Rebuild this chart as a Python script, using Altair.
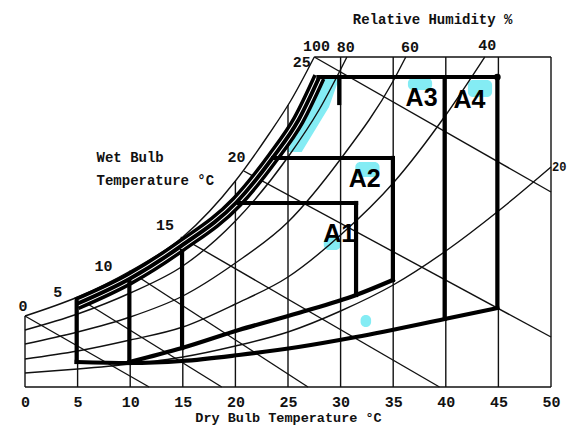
import altair as alt
import pandas as pd

# ---------------- values ----------------
# T = dry bulb temperature (deg C), W = chart ordinate (unlabelled humidity scale)
sat_T = [0, 5, 10, 15, 20, 23.2, 25.3, 27.5]
sat_W = [7.1, 9.0, 11.6, 15.0, 20.6, 25.3, 28.7, 33.0]

rh80_T = [0, 5, 10, 15, 20, 25, 28, 30.6]
rh80_W = [5.7, 7.3, 9.4, 12.1, 16.6, 23.0, 27.8, 33.0]
rh60_T = [0, 5, 10, 15, 20, 25, 30, 35, 36.2]
rh60_W = [4.3, 5.5, 7.0, 9.1, 12.4, 16.5, 22.8, 30.6, 33.0]
rh40_T = [0, 5, 10, 15, 20, 25, 30, 35, 40, 43.7]
rh40_W = [2.8, 3.6, 4.7, 6.0, 8.3, 11.0, 15.2, 20.4, 27.2, 33.0]
rh20_T = [0, 5, 10, 15, 20, 25, 30, 35, 40, 45, 50]
rh20_W = [1.4, 1.8, 2.3, 3.0, 4.1, 5.5, 7.6, 10.2, 13.6, 17.6, 22.0]

wb_names = ["0", "5", "10", "15", "20", "25"]
wb_start_T = [0, 4.9, 9.9, 14.8, 20.8, 27.5]
wb_start_W = [7.1, 9.0, 11.6, 15.0, 21.6, 33.0]
wb_end_T = [11.8, 18.7, 26.9, 39.4, 50, 50]
wb_end_W = [0, 0, 0, 0, 5.0, 19.5]

grid_T = [0, 5, 10, 15, 20, 25, 30, 35, 40, 45, 50]
grid_top = [7.1, 9.0, 11.6, 15.0, 20.6, 28.2, 33, 33, 33, 33, 33]
border_W = [0, 33]
border_T0 = [0, 27.5]
border_T1 = [50, 50]

# thick zone boundaries
band_T = [4.91, 9.92, 14.84, 20.13, 23.53, 26.0, 27.98]
band_W = [8.3, 10.8, 14.1, 18.5, 22.9, 26.7, 31.0]
upper_T = [9.92, 14.93, 20.32, 25.99, 31.47, 34.97]
upper_W = [2.5, 3.9, 5.7, 7.4, 9.2, 10.7]
lower_T = [4.91, 9.92, 14.93, 20.32, 25.99, 31.47, 39.89, 44.9]
lower_W = [2.5, 2.4, 2.6, 3.2, 4.0, 5.0, 6.8, 7.9]
vert_T = [4.91, 9.92, 14.93, 31.47, 34.97, 39.89, 44.9, 29.87]
vert_W0 = [2.5, 2.4, 3.9, 9.2, 10.7, 6.8, 7.9, 28.4]
vert_W1 = [8.5, 10.6, 13.6, 18.4, 22.9, 31.0, 31.0, 31.0]
hor_W = [31.0, 22.9, 18.4]
hor_T0 = [27.9, 23.6, 20.3]
hor_T1 = [44.9, 34.97, 31.47]

# cyan highlights
strip_W = [23.5, 28.0, 31.0]
strip_T0 = [24.9, 27.0, 28.3]
strip_T1 = [26.3, 28.9, 29.9]
blob_T0 = [36.4, 42.1, 31.4, 28.4, 31.9]
blob_T1 = [38.7, 44.4, 33.7, 30.0, 32.9]
blob_W0 = [29.7, 29.0, 21.0, 13.7, 6.0]
blob_W1 = [30.9, 30.7, 22.5, 15.0, 7.2]

zone_names = ["A1", "A2", "A3", "A4"]
zone_T = [29.87, 32.3, 37.7, 42.25]
zone_W = [15.3, 20.8, 28.9, 28.7]

wb_lab_T = [-0.19, 3.12, 7.47, 13.3, 20.1, 26.3]
wb_lab_W = [8.1, 9.5, 12.1, 16.2, 23.0, 32.5]
rh_names = ["100", "80", "60", "40"]
rh_lab_T = [27.7, 30.5, 36.6, 43.95]
rh_lab_W = [34.1, 34.0, 34.0, 34.2]
rh_side_name = ["20"]
rh_side_T = [50.1]
rh_side_W = [22.0]
title_texts = ["Relative Humidity %", "Wet Bulb", "Temperature °C"]
title_T = [38.75, 6.8, 6.8]
title_W = [36.7, 22.9, 20.6]
title_align = ["center", "left", "left"]
x_ticks = [0, 5, 10, 15, 20, 25, 30, 35, 40, 45, 50]

# ---------------- build tables ----------------
def series(name, Ts, Ws):
    return pd.DataFrame({"id": name, "T": Ts, "W": Ws, "o": list(range(len(Ts)))})

thin = [series("rh100", sat_T, sat_W), series("rh80", rh80_T, rh80_W),
        series("rh60", rh60_T, rh60_W), series("rh40", rh40_T, rh40_W),
        series("rh20", rh20_T, rh20_W)]
for n, a, b, c, d in zip(wb_names, wb_start_T, wb_start_W, wb_end_T, wb_end_W):
    thin.append(series("wb" + n, [a, c], [b, d]))
thin_df = pd.concat(thin, ignore_index=True)

thick_df = pd.concat([series("upper", upper_T, upper_W),
                      series("lower", lower_T, lower_W)], ignore_index=True)
band_df = series("band", band_T, band_W)

FONT = "Liberation Mono"
BLACK = "#111111"
CYAN = "#84ecf4"

xs = alt.Scale(domain=[0, 50], nice=False, zero=False)
ys = alt.Scale(domain=[0, 33], nice=False, zero=False)
xaxis = alt.Axis(values=x_ticks, domain=False, ticks=False, tickSize=0, grid=False,
                 labelFont=FONT, labelFontSize=15, labelFontWeight="bold",
                 labelColor=BLACK, labelPadding=7, labelFlush=False, labelOverlap=False,
                 title="Dry Bulb Temperature °C", titleFont=FONT, titleFontSize=13.5,
                 titleFontWeight="bold", titleColor=BLACK, titleY=30,
                 titleBaseline="middle")

def X(f):
    return alt.X(f, type="quantitative", scale=xs, axis=xaxis)

def Y(f):
    return alt.Y(f, type="quantitative", scale=ys, axis=None)

strip = alt.Chart(pd.DataFrame({"W": strip_W, "T0": strip_T0, "T1": strip_T1})).mark_area(
    orient="horizontal", color=CYAN, opacity=1).encode(
    y=Y("W"), x=X("T0"), x2="T1")

blobs = alt.Chart(pd.DataFrame({"T0": blob_T0, "T1": blob_T1, "W0": blob_W0, "W1": blob_W1})).mark_rect(
    color=CYAN, cornerRadius=5).encode(x=X("T0"), x2="T1", y=Y("W0"), y2="W1")

grid = alt.Chart(pd.DataFrame({"T": grid_T, "top": grid_top, "bot": [0] * len(grid_T)})).mark_rule(
    color=BLACK, strokeWidth=1.4).encode(x=X("T"), y=Y("bot"), y2="top")

borders = alt.Chart(pd.DataFrame({"W": border_W, "T0": border_T0, "T1": border_T1})).mark_rule(
    color=BLACK, strokeWidth=1.4).encode(y=Y("W"), x=X("T0"), x2="T1")

thin_lines = alt.Chart(thin_df).mark_line(color=BLACK, strokeWidth=1.4, interpolate="monotone").encode(
    x=X("T"), y=Y("W"), detail="id:N", order="o:Q")

band1 = alt.Chart(band_df).mark_line(color="black", strokeWidth=13, interpolate="monotone",
                                      strokeCap="butt").encode(x=X("T"), y=Y("W"), order="o:Q")
band2 = alt.Chart(band_df).mark_line(color="white", strokeWidth=6, interpolate="monotone",
                                      strokeCap="butt").encode(x=X("T"), y=Y("W"), order="o:Q")
band3 = alt.Chart(band_df).mark_line(color="black", strokeWidth=4, interpolate="monotone",
                                      strokeCap="butt").encode(x=X("T"), y=Y("W"), order="o:Q")

thick_curves = alt.Chart(thick_df).mark_line(color="black", strokeWidth=4.2, interpolate="monotone",
                                             strokeCap="square").encode(
    x=X("T"), y=Y("W"), detail="id:N", order="o:Q")

verts = alt.Chart(pd.DataFrame({"T": vert_T, "W0": vert_W0, "W1": vert_W1})).mark_rule(
    color="black", strokeWidth=4.2, strokeCap="square").encode(x=X("T"), y=Y("W0"), y2="W1")

hors = alt.Chart(pd.DataFrame({"W": hor_W, "T0": hor_T0, "T1": hor_T1})).mark_rule(
    color="black", strokeWidth=4.2, strokeCap="square").encode(y=Y("W"), x=X("T0"), x2="T1")

dot = alt.Chart(pd.DataFrame({"T": [hor_T1[0]], "W": [hor_W[0]]})).mark_circle(
    color="black", size=45, opacity=1).encode(x=X("T"), y=Y("W"))

zones = alt.Chart(pd.DataFrame({"t": zone_names, "T": zone_T, "W": zone_W})).mark_text(
    font="Liberation Sans", fontSize=25, fontWeight="bold", color="black",
    align="center", baseline="middle").encode(x=X("T"), y=Y("W"), text="t:N")

wb_text = alt.Chart(pd.DataFrame({"t": wb_names, "T": wb_lab_T, "W": wb_lab_W})).mark_text(
    font=FONT, fontSize=15, fontWeight="bold", color=BLACK,
    align="center", baseline="middle").encode(x=X("T"), y=Y("W"), text="t:N")

rh_text = alt.Chart(pd.DataFrame({"t": rh_names, "T": rh_lab_T, "W": rh_lab_W})).mark_text(
    font=FONT, fontSize=15, fontWeight="bold", color=BLACK,
    align="center", baseline="middle").encode(x=X("T"), y=Y("W"), text="t:N")

rh_side = alt.Chart(pd.DataFrame({"t": rh_side_name, "T": rh_side_T, "W": rh_side_W})).mark_text(
    font=FONT, fontSize=12, fontWeight="bold", color=BLACK,
    align="left", baseline="middle").encode(x=X("T"), y=Y("W"), text="t:N")

titles = alt.Chart(pd.DataFrame({"t": title_texts, "T": title_T, "W": title_W, "a": title_align}))
title_c = titles.transform_filter(alt.datum.a == "center").mark_text(
    font=FONT, fontSize=14, fontWeight="bold", color=BLACK, align="center",
    baseline="middle").encode(x=X("T"), y=Y("W"), text="t:N")
title_l = titles.transform_filter(alt.datum.a == "left").mark_text(
    font=FONT, fontSize=14, fontWeight="bold", color=BLACK, align="left",
    baseline="middle").encode(x=X("T"), y=Y("W"), text="t:N")

chart = alt.layer(
    strip, blobs, grid, borders, thin_lines, band1, band2, band3,
    thick_curves, verts, hors, dot, zones, wb_text, rh_text, rh_side, title_c, title_l
).properties(
    width=526, height=330,
    padding={"left": 17, "top": 49, "right": 16, "bottom": 38},
    autosize=alt.AutoSizeParams(type="none"),
    background="white",
).configure_view(stroke=None)

chart.save("out.html", embed_options={"renderer": "svg", "actions": False})
